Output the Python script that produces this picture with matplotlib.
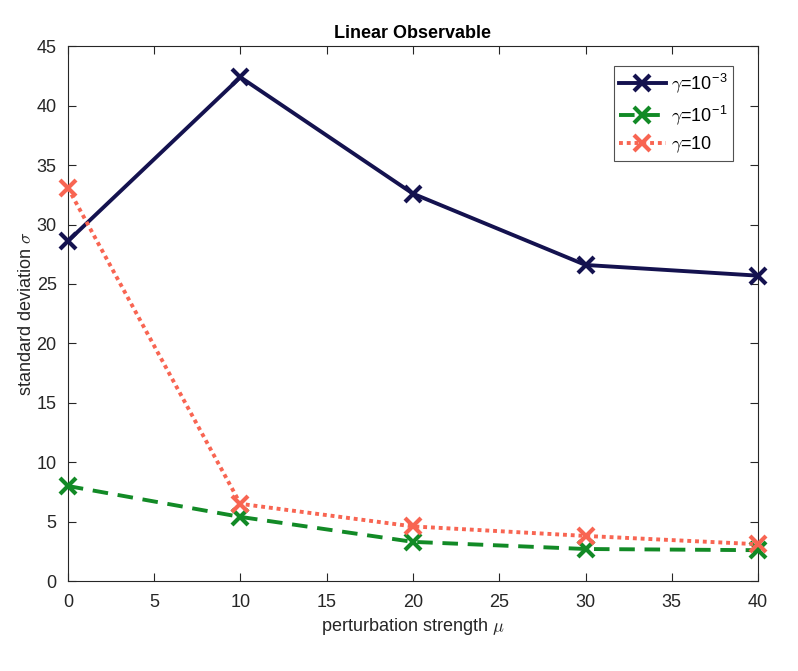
import numpy as np
import matplotlib
matplotlib.use('Agg')
import matplotlib.pyplot as plt

plt.rcParams['font.family'] = ['Liberation Sans', 'DejaVu Sans']
plt.rcParams['mathtext.fontset'] = 'cm'

# data
mu = [0, 10, 20, 30, 40]
sigma_g1e3 = [28.6, 42.4, 32.6, 26.6, 25.7]
sigma_g1e1 = [8.0, 5.4, 3.3, 2.7, 2.6]
sigma_g10 = [33.1, 6.5, 4.6, 3.8, 3.1]
labels = [r'$\gamma$=10$^{\mathregular{-3}}$', r'$\gamma$=10$^{\mathregular{-1}}$', r'$\gamma$=10']

fig = plt.figure(figsize=(7.98, 6.71), dpi=100)
ax = fig.add_axes([0.085, 0.134, 0.865, 0.797])

ax.plot(mu, sigma_g1e3, '-x', color='#14124f', lw=2.8, ms=12, mew=3, label=labels[0],
        clip_on=False, zorder=3)
ax.plot(mu, sigma_g1e1, '--x', color='#128a26', lw=2.8, ms=12, mew=3, label=labels[1],
        dashes=(4, 2.5), clip_on=False, zorder=3)
ax.plot(mu, sigma_g10, ':x', color='#f86552', lw=2.8, ms=12, mew=3, label=labels[2],
        dashes=(1, 1), clip_on=False, zorder=3)

ax.set_xlim(0, 40)
ax.set_ylim(0, 45)
ax.set_xticks(np.arange(0, 41, 5))
ax.set_yticks(np.arange(0, 46, 5))
ax.tick_params(direction='in', top=True, right=True, labelsize=13, colors='#262626',
               length=6, width=0.8)
ax.tick_params(axis='x', pad=9)
ax.tick_params(axis='y', pad=8)
for s in ax.spines.values():
    s.set_color('#262626')
    s.set_linewidth(0.8)

ax.set_title('Linear Observable', fontsize=13, fontweight='bold', pad=6)
ax.set_xlabel(r'perturbation strength $\mu$', fontsize=13, color='#262626', labelpad=4)
ax.set_ylabel(r'standard deviation $\sigma$', fontsize=13, color='#262626', labelpad=1)

leg = ax.legend(loc='upper right', bbox_to_anchor=(0.964, 0.963), fontsize=13,
                fancybox=False, edgecolor='#262626', handlelength=2.6,
                handletextpad=0.3, borderpad=0.3, labelspacing=0.45, borderaxespad=0)
leg.get_frame().set_linewidth(0.8)

fig.savefig('out.png', dpi=100)
